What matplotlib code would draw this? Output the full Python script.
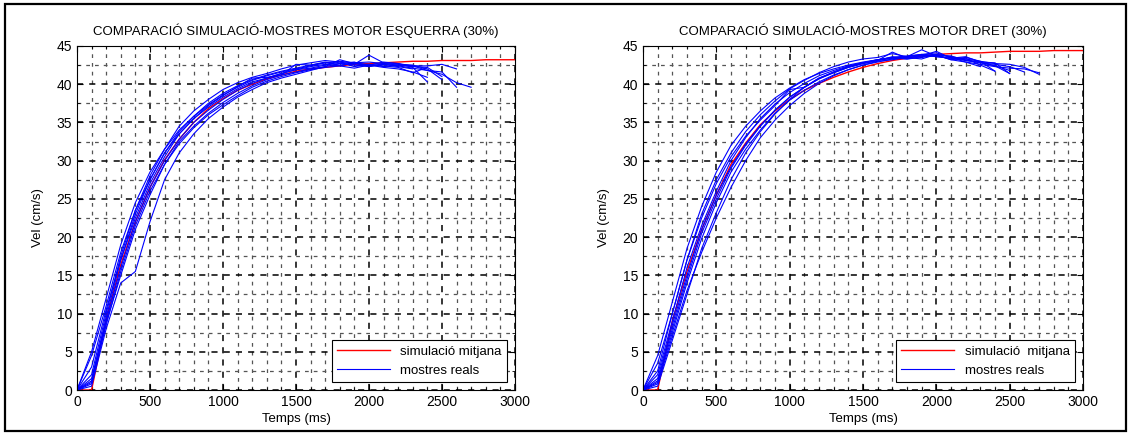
import matplotlib.pyplot as plt
from matplotlib.patches import Rectangle
from matplotlib.ticker import MultipleLocator

plt.rcParams['font.family'] = ['Liberation Sans', 'DejaVu Sans']
plt.rcParams['font.size'] = 9

# simulated mean response, one value every 100 ms (0..3000)
sim_t = list(range(0, 3001, 100))
sim_left = [0, 0, 9.2, 16.4, 22.0, 26.5, 30.1, 32.8, 35.0, 36.8, 38.1, 39.2, 40.0, 40.7,
            41.2, 41.7, 42.0, 42.2, 42.4, 42.6, 42.7, 42.8, 42.9, 43.0, 43.0, 43.1, 43.1,
            43.1, 43.2, 43.2, 43.2]
sim_right = [0, 0, 9.0, 15.5, 21.0, 25.5, 29.5, 32.3, 34.7, 36.5, 38.0, 39.2, 40.1, 40.9,
             41.6, 42.2, 42.7, 43.1, 43.4, 43.7, 43.9, 44.0, 44.1, 44.1, 44.2, 44.3, 44.3,
             44.3, 44.4, 44.4, 44.4]

# measured samples (100 ms step, each run stops at a different time)
samples_left = [
    [0, 5, 12, 19, 24.5, 28.5, 31.5, 34, 35.8, 37.3, 38.6, 39.6, 40.5, 41.1, 41.6, 42.0,
     42.4, 42.8, 43.0, 42.8, 42.9, 42.7, 42.6, 42.5, 42.0, 40.6],
    [0, 4.5, 11, 18, 23.5, 27.5, 31, 33.5, 35.5, 37, 38.3, 39.4, 40.3, 40.8, 41.4, 41.9,
     42.1, 42.5, 42.9, 42.6, 43.8, 42.8, 42.7, 42.4, 41.8, 41.3, 40.2, 39.6],
    [0, 1.5, 9, 16, 22, 26.5, 30, 32.8, 35, 36.6, 38, 39.2, 40.1, 40.8, 41.4, 41.9, 42.3,
     42.6, 42.4, 42.8, 42.5, 42.9, 42.7, 42.2, 40.3],
    [0, 1, 8.5, 15.5, 21.5, 26, 29.5, 32.5, 34.5, 36.2, 37.6, 38.8, 39.8, 40.6, 41.2, 41.6,
     42.0, 42.3, 42.7, 42.5, 42.3, 42.6, 42.4, 42.1, 41.8, 41.6, 39.6],
    [0, 0.5, 8, 14, 15.5, 22, 27.5, 31, 33.5, 35.5, 37, 38.3, 39.3, 40.2, 40.8, 41.3, 41.8,
     42.3, 43.2, 42.7, 42.4, 42.6, 42.3, 42.0],
    [0, 1.2, 9.5, 17, 23, 27.5, 31, 33.8, 35.8, 37.5, 38.8, 39.8, 40.6, 41.2, 41.7, 42.1,
     42.5, 42.8, 42.5, 42.7, 42.6, 42.4, 42.2, 41.5, 42.2, 41.0],
    [0, 2, 10, 17.5, 23.5, 28, 31.5, 34.5, 36.5, 38, 39.3, 40.2, 40.9, 41.4, 42.0, 42.5,
     42.8, 43.1, 42.9, 42.3, 42.6, 42.3, 42.5, 42.4, 42.4, 42.6, 42.0],
    [0, 0.8, 8.8, 15, 21, 25.5, 29.5, 32.2, 34.3, 36, 37.3, 38.5, 39.6, 40.4, 41.0, 41.5,
     41.9, 42.2, 42.4, 42.1, 42.5, 42.2, 42.0, 41.6, 40.9],
    [0, 3, 10.5, 17, 22.5, 27, 30.5, 33.5, 35.5, 37.2, 38.5, 39.7, 40.8, 40.9, 41.2, 42.6,
     42.5, 42.9, 42.7, 42.9, 42.3, 42.7, 42.5, 42.3, 42.2],
]
samples_right = [
    [0, 4.5, 11.5, 18.5, 24, 28.5, 32, 34.5, 36.5, 38.2, 39.5, 40.6, 41.4, 42.0, 42.5, 42.9,
     43.2, 43.5, 43.6, 43.9, 44.1, 43.5, 43.2, 42.8, 42.4, 41.4],
    [0, 3.5, 10, 17, 22.5, 27, 30.5, 33.2, 35.3, 37.2, 39.3, 39.6, 40.8, 41.5, 42.2, 42.7,
     43.1, 44.2, 43.4, 43.8, 43.9, 43.6, 43.3, 43.0, 42.7, 42.6, 42.2, 41.3],
    [0, 1.5, 8.5, 15, 21, 25.5, 29.2, 32.2, 34.6, 36.6, 38.3, 39.6, 40.7, 41.5, 42.2,
     42.7, 43.1, 43.4, 43.6, 44.5, 43.7, 43.3, 43.5, 43.0, 41.7],
    [0, 1, 7.5, 14, 19.8, 24.5, 28.5, 31.5, 34, 36.2, 37.9, 39.2, 40.3, 41.2, 41.9, 42.5,
     42.9, 43.3, 43.5, 43.7, 44.3, 43.4, 43.1, 42.8, 42.6, 42.3, 41.6],
    [0, 0.8, 7, 13, 18, 22.5, 26.5, 30, 33, 35.3, 37.2, 38.8, 40.1, 41.1, 41.9, 42.5,
     43.0, 43.2, 43.5, 43.3, 43.9, 43.2, 42.9, 42.3],
    [0, 2, 9, 16, 21.5, 26, 30, 33, 35.5, 37.4, 38.9, 40.1, 41.1, 41.8, 42.4, 42.8, 43.2,
     43.4, 43.3, 43.6, 43.8, 43.7, 43.1, 42.9, 42.8, 41.4],
    [0, 1.2, 8, 14.5, 20.5, 25, 29, 32, 34.5, 36.6, 38.3, 39.6, 40.7, 41.6, 42.3, 42.8,
     43.1, 43.6, 43.3, 43.5, 43.8, 43.2, 43.4, 42.5, 41.7],
    [0, 0.5, 6.5, 12.5, 18.5, 23.2, 27.5, 31, 33.8, 36.1, 38, 39.6, 40.8, 41.6, 42.3, 42.8,
     43.2, 43.5, 43.7, 43.9, 43.6, 43.5, 42.9, 42.6, 42.3, 42.1, 42.0, 41.5],
    [0, 2.5, 10, 17, 23, 27.5, 31, 33.8, 36, 37.8, 39.4, 40.5, 41.5, 42.3, 42.9,
     43.3, 43.5, 44.0, 43.6, 43.8, 43.6, 43.4, 43.6, 42.9, 42.4, 41.8],
]

titles = ["COMPARACIÓ SIMULACIÓ-MOSTRES MOTOR ESQUERRA (30%)",
          "COMPARACIÓ SIMULACIÓ-MOSTRES MOTOR DRET (30%)"]
sim_labels = ["simulació mitjana", "simulació  mitjana"]

fig = plt.figure(figsize=(11.3, 4.33), dpi=100)
ax1 = fig.add_axes([0.0681, 0.0993, 0.3876, 0.7945])
ax2 = fig.add_axes([0.569, 0.0993, 0.3894, 0.7945])

for ax, sim, samples, title, slabel in zip([ax1, ax2], [sim_left, sim_right],
                                          [samples_left, samples_right], titles, sim_labels):
    ax.plot(sim_t, sim, color='red', lw=1.0, label=slabel)
    for i, s in enumerate(samples):
        ax.plot(sim_t[:len(s)], s, color='blue', lw=0.8,
                label='mostres reals' if i == 0 else None)
    ax.set_xlim(0, 3000)
    ax.set_ylim(0, 45)
    ax.xaxis.set_major_locator(MultipleLocator(500))
    ax.xaxis.set_minor_locator(MultipleLocator(100))
    ax.yaxis.set_major_locator(MultipleLocator(5))
    ax.yaxis.set_minor_locator(MultipleLocator(2.5))
    ax.grid(True, which='major', color='black', lw=1.1, ls=(0, (4, 4)))
    ax.grid(True, which='minor', color='#555555', lw=0.9, ls=(0, (3, 4)))
    ax.set_axisbelow(True)
    ax.tick_params(which='both', direction='in', top=True, right=True, labelsize=10)
    ax.tick_params(which='major', length=4)
    ax.tick_params(which='minor', length=2)
    for sp in ax.spines.values():
        sp.set_linewidth(0.8)
    ax.set_title(title, fontsize=9.5, pad=8)
    ax.set_xlabel("Temps (ms)", fontsize=9.5, labelpad=3)
    ax.set_ylabel("Vel (cm/s)", fontsize=9.5, labelpad=9)
    leg = ax.legend(loc='lower right', fontsize=9.5, fancybox=False, framealpha=1,
                    edgecolor='black', handlelength=4.0, borderaxespad=0.6)
    leg.get_frame().set_linewidth(0.8)

fig.patches.append(Rectangle((5 / 1130, 2 / 433), 1121 / 1130, 427 / 433,
                             transform=fig.transFigure, fill=False,
                             edgecolor='black', lw=1.6))

fig.savefig("out.png", dpi=100)
